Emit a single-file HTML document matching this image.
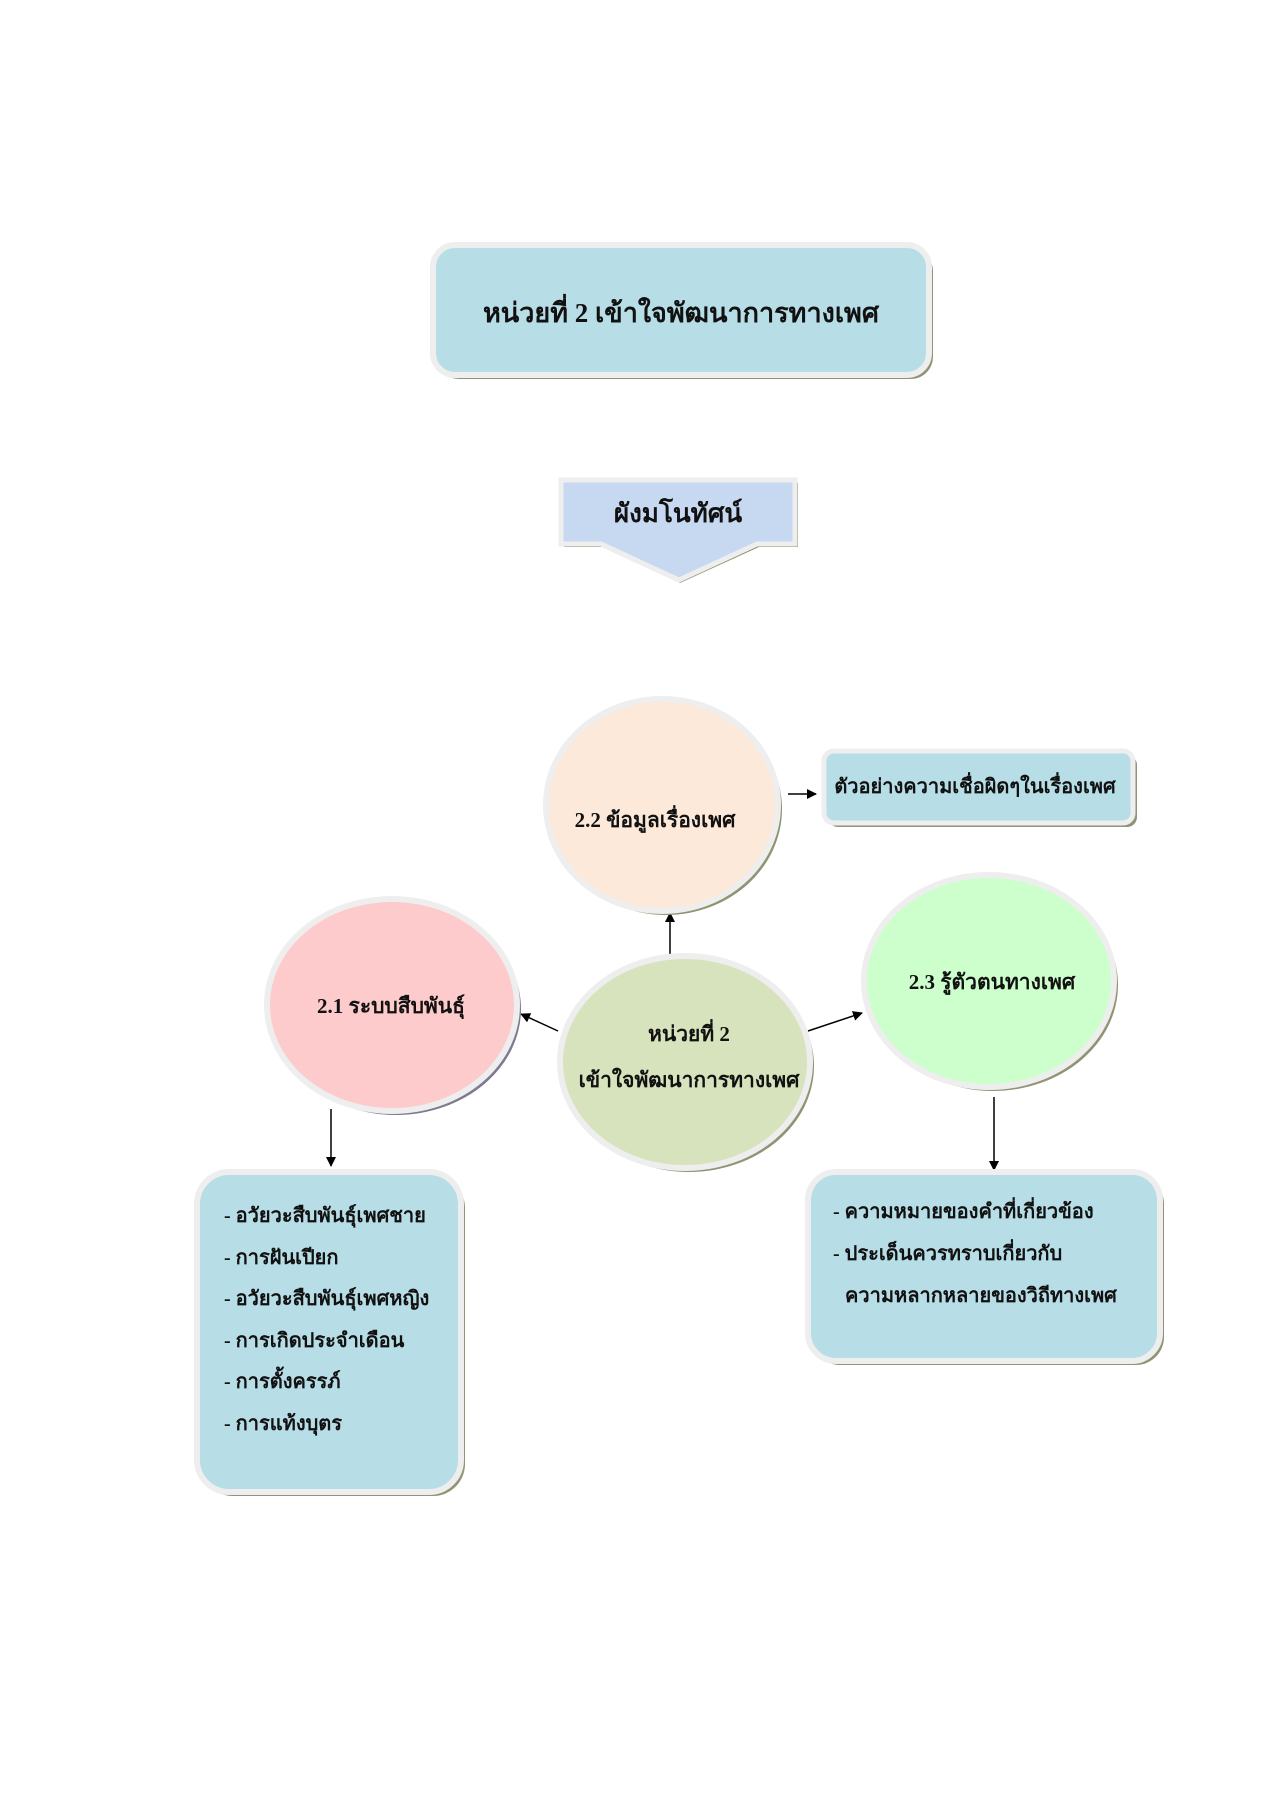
<!DOCTYPE html>
<html><head><meta charset="utf-8"><style>
html,body{margin:0;padding:0;background:#fff}
svg{display:block}
text{font-family:"Liberation Serif","DejaVu Serif",serif;font-weight:bold;fill:#111}
</style></head><body>
<svg width="1272" height="1800" viewBox="0 0 1272 1800" xmlns="http://www.w3.org/2000/svg">
<defs>
<marker id="a" markerWidth="10" markerHeight="10" refX="9" refY="5" orient="auto" markerUnits="userSpaceOnUse"><path d="M0,0 L10,5 L0,10 z" fill="#000"/></marker>
</defs>
<!-- title -->
<rect x="437" y="249" width="496" height="130" rx="22" fill="#8f9472"/>
<rect x="433" y="245" width="496" height="130" rx="22" fill="#b7dde6" stroke="#eeeeee" stroke-width="6"/>
<text x="681" y="322" font-size="27" text-anchor="middle">หน่วยที่ 2  เข้าใจพัฒนาการทางเพศ</text>
<!-- concept arrow -->
<path d="M564,483 L798,483 L798,547 L759,547 L680,583 L602,547 L564,547 z" fill="#8f9472"/>
<path d="M561,480 L795,480 L795,544 L757,544 L679,580 L601,544 L561,544 z" fill="#c6d9f1" stroke="#eeeeee" stroke-width="5"/>
<text x="678" y="522" font-size="26" text-anchor="middle">ผังมโนทัศน์</text>
<g transform="translate(-5,-7)">
<!-- connectors -->
<line x1="675" y1="962" x2="675" y2="920" stroke="#000" stroke-width="1.5" marker-end="url(#a)"/>
<line x1="563" y1="1038" x2="526" y2="1021" stroke="#000" stroke-width="1.5" marker-end="url(#a)"/>
<line x1="813" y1="1038" x2="867" y2="1020" stroke="#000" stroke-width="1.5" marker-end="url(#a)"/>
<line x1="793" y1="801" x2="821" y2="801" stroke="#000" stroke-width="1.5" marker-end="url(#a)"/>
<line x1="336" y1="1116" x2="336" y2="1173" stroke="#000" stroke-width="1.5" marker-end="url(#a)"/>
<line x1="999" y1="1104" x2="999" y2="1177" stroke="#000" stroke-width="1.5" marker-end="url(#a)"/>
<!-- circle 2.2 -->
<ellipse cx="671" cy="816" rx="116" ry="106" fill="#8f9472"/>
<ellipse cx="667" cy="812" rx="116" ry="106" fill="#fce9da" stroke="#eeeeee" stroke-width="6"/>
<text x="660" y="834" font-size="21" text-anchor="middle">2.2  ข้อมูลเรื่องเพศ</text>
<!-- box right top -->
<rect x="833" y="762" width="309" height="72" rx="10" fill="#8f9472"/>
<rect x="829" y="758" width="309" height="72" rx="10" fill="#b7dde6" stroke="#eeeeee" stroke-width="5"/>
<text x="980" y="800" font-size="20" text-anchor="middle">ตัวอย่างความเชื่อผิดๆในเรื่องเพศ</text>
<!-- circle 2.1 -->
<ellipse cx="401" cy="1016" rx="125" ry="106" fill="#7d7a8f"/>
<ellipse cx="397" cy="1012" rx="125" ry="106" fill="#fdcbcb" stroke="#eeeeee" stroke-width="6"/>
<text x="396" y="1020" font-size="21" text-anchor="middle">2.1  ระบบสืบพันธุ์</text>
<!-- center -->
<ellipse cx="694" cy="1073" rx="125" ry="106" fill="#8f9472"/>
<ellipse cx="690" cy="1069" rx="125" ry="106" fill="#d7e3bc" stroke="#eeeeee" stroke-width="6"/>
<text x="694" y="1048" font-size="21" text-anchor="middle">หน่วยที่  2</text>
<text x="694" y="1094" font-size="21" text-anchor="middle">เข้าใจพัฒนาการทางเพศ</text>
<!-- circle 2.3 -->
<ellipse cx="998" cy="992" rx="125" ry="106" fill="#8f9472"/>
<ellipse cx="994" cy="988" rx="125" ry="106" fill="#ccffcc" stroke="#eeeeee" stroke-width="6"/>
<text x="997" y="996" font-size="21" text-anchor="middle">2.3  รู้ตัวตนทางเพศ</text>
<!-- left box -->
<rect x="206" y="1183" width="264" height="320" rx="32" fill="#8f9472"/>
<rect x="202" y="1179" width="264" height="320" rx="32" fill="#b7dde6" stroke="#eeeeee" stroke-width="6"/>
<g font-size="20">
<text x="229" y="1229">- อวัยวะสืบพันธุ์เพศชาย</text>
<text x="229" y="1271">- การฝันเปียก</text>
<text x="229" y="1312">- อวัยวะสืบพันธุ์เพศหญิง</text>
<text x="229" y="1354">- การเกิดประจำเดือน</text>
<text x="229" y="1395">- การตั้งครรภ์</text>
<text x="229" y="1437">- การแท้งบุตร</text>
</g>
<!-- right box -->
<rect x="817" y="1183" width="352" height="189" rx="28" fill="#8f9472"/>
<rect x="813" y="1179" width="352" height="189" rx="28" fill="#b7dde6" stroke="#eeeeee" stroke-width="6"/>
<g font-size="20">
<text x="838" y="1225">- ความหมายของคำที่เกี่ยวข้อง</text>
<text x="838" y="1267">- ประเด็นควรทราบเกี่ยวกับ</text>
<text x="850" y="1309">ความหลากหลายของวิถีทางเพศ</text>
</g>
</g>
</svg>
</body></html>
